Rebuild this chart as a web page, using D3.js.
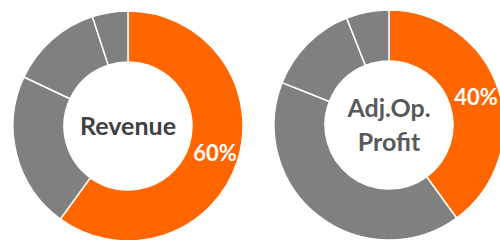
<!DOCTYPE html>
<html>
<head>
<meta charset="utf-8">
<script src="https://cdn.jsdelivr.net/npm/d3@7"></script>
<style>
  body { margin: 0; background: #fff; }
  svg { display: block; }
</style>
</head>
<body>
<script>
// share of each segment, first one is highlighted in orange
var segments = ["Segment A", "Segment B", "Segment C", "Segment D"];
var revenueShares = [60, 22, 13, 5];
var profitShares = [40, 41, 13, 6];
var titles = [["Revenue"], ["Adj.Op.", "Profit"]];
var labels = ["60%", "40%"];

var charts = [
  { values: revenueShares, title: titles[0], label: labels[0], cx: 128, cy: 126 },
  { values: profitShares, title: titles[1], label: labels[1], cx: 389, cy: 125 }
];

const svg = d3.select("body").append("svg")
  .attr("width", 500)
  .attr("height", 240);

const color = d3.scaleOrdinal()
  .domain(segments)
  .range(["#ff6600", "#808080", "#808080", "#808080"]);

const pie = d3.pie().sort(null).value((d) => d.value);
const arc = d3.arc().innerRadius(64).outerRadius(115);

charts.forEach((c) => {
  const data = segments.map((s, i) => ({ name: s, value: c.values[i] }));
  const g = svg.append("g").attr("transform", "translate(" + c.cx + "," + c.cy + ")");

  g.selectAll("path")
    .data(pie(data))
    .enter()
    .append("path")
    .attr("d", arc)
    .attr("fill", (d) => color(d.data.name))
    .attr("stroke", "#fff")
    .attr("stroke-width", 1.5);

  // percentage of the highlighted slice
  const first = pie(data)[0];
  const pos = arc.centroid(first);
  g.append("text")
    .attr("x", pos[0] + 2)
    .attr("y", pos[1])
    .attr("dy", "0.35em")
    .attr("text-anchor", "middle")
    .attr("fill", "#fff")
    .style("font-family", "Lato, 'Open Sans', sans-serif")
    .style("font-weight", "bold")
    .style("font-size", "22px")
    .text(c.label);

  // title in the hole
  const lh = 34;
  const top = -(c.title.length - 1) * lh / 2;
  g.selectAll("text.title")
    .data(c.title)
    .enter()
    .append("text")
    .attr("class", "title")
    .attr("x", 0)
    .attr("y", (d, i) => top + i * lh)
    .attr("dy", "0.35em")
    .attr("text-anchor", "middle")
    .attr("fill", c.title.length > 1 ? "#595959" : "#404040")
    .style("font-family", "Lato, 'Open Sans', sans-serif")
    .style("font-weight", "bold")
    .style("font-size", "25px")
    .text((d) => d);
});
</script>
</body>
</html>
